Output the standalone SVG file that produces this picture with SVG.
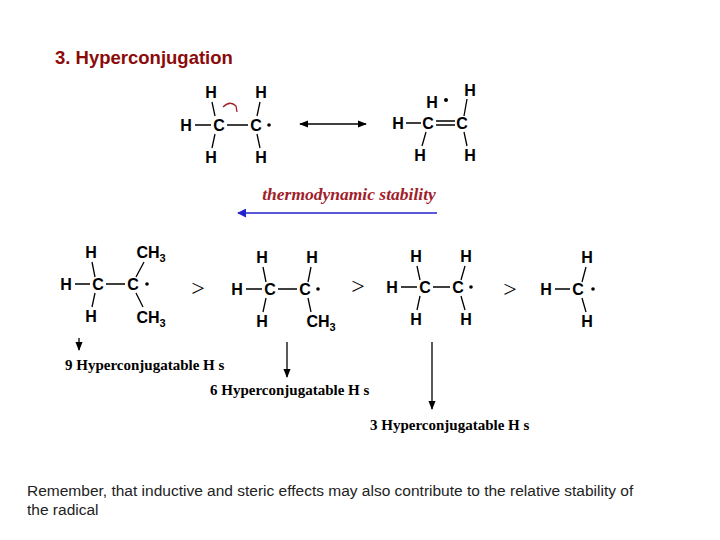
<svg xmlns="http://www.w3.org/2000/svg" width="720" height="540" viewBox="0 0 720 540">
<style>
.a{font-family:"Liberation Sans",Arial,sans-serif;font-weight:bold;font-size:16px;text-anchor:middle;fill:#000}
.s{font-size:11px}
.b{stroke:#000;stroke-width:1.3;fill:none}
.g{font-family:"Liberation Serif",serif;font-size:24px;fill:#000;text-anchor:middle}
.l{font-family:"Liberation Serif",serif;font-weight:bold;font-size:15px;fill:#000}
</style>
<defs>
<marker id="ar" viewBox="0 0 10 10" refX="9" refY="5" markerWidth="7" markerHeight="7" orient="auto-start-reverse"><path d="M0,1 L10,5 L0,9 z" fill="#000"/></marker>
<marker id="ab" viewBox="0 0 10 10" refX="9" refY="5" markerWidth="6" markerHeight="6" orient="auto"><path d="M0,0 L10,5 L0,10 z" fill="#2222cc"/></marker>
</defs>
<rect width="720" height="540" fill="#fff"/>
<text x="55" y="64" font-family="Liberation Sans,Arial,sans-serif" font-weight="bold" font-size="18.5" fill="#8b0a0a">3. Hyperconjugation</text>

<g id="ethyl">
<text class="a" x="211" y="98">H</text><text class="a" x="261" y="98">H</text>
<text class="a" x="186" y="131">H</text><text class="a" x="219" y="131">C</text><text class="a" x="256" y="131">C</text>
<circle cx="269" cy="125" r="1.8"/>
<text class="a" x="211" y="163">H</text><text class="a" x="261" y="163">H</text>
<path class="b" d="M195,125H211M227,125H248M212,102L215,116M260,102L257,116M215,134L212,148M257,134L260,148"/>
<path d="M223,107 Q230,100 236,106 L237,112" fill="none" stroke="#a0202a" stroke-width="1.3"/>
</g>
<g id="connectors">
<line x1="300" y1="124" x2="366" y2="124" class="b" marker-start="url(#ar)" marker-end="url(#ar)"/>
<line x1="437" y1="213" x2="238" y2="213" stroke="#2222cc" stroke-width="1.5" marker-end="url(#ab)"/>
<line x1="79" y1="338" x2="79" y2="350" class="b" marker-end="url(#ar)"/>
<line x1="287" y1="342" x2="287" y2="377" class="b" marker-end="url(#ar)"/>
<line x1="432" y1="342" x2="432" y2="409" class="b" marker-end="url(#ar)"/>
</g>
<g id="ethene">
<text class="a" x="398" y="129">H</text><text class="a" x="428" y="129">C</text><text class="a" x="462" y="129">C</text>
<text class="a" x="470" y="96">H</text><text class="a" x="432" y="108">H</text><circle cx="446" cy="100" r="2"/>
<text class="a" x="420" y="161">H</text><text class="a" x="470" y="161">H</text>
<path class="b" d="M406,123H421M436,121H455M436,125H455M467,99L464,116M426,132L422,146M464,132L467,146"/>
</g>
<text x="349" y="200" font-family="Liberation Serif,serif" font-style="italic" font-weight="bold" font-size="17.5" fill="#a0202a" text-anchor="middle">thermodynamic stability</text>

<g id="m1">
<text class="a" x="91" y="258">H</text><text class="a" x="151" y="258">CH<tspan class="s" dy="4">3</tspan></text>
<text class="a" x="66" y="290">H</text><text class="a" x="98" y="290">C</text><text class="a" x="133" y="290">C</text><circle cx="147" cy="284" r="1.8"/>
<text class="a" x="91" y="322">H</text><text class="a" x="151" y="323">CH<tspan class="s" dy="4">3</tspan></text>
<path class="b" d="M75,284H90M106,284H125M92,262L95,277M144,262L136,277M95,293L92,307M136,293L143,307"/>
</g>
<text class="g" x="198" y="296">&gt;</text>
<g id="m2">
<text class="a" x="262" y="263">H</text><text class="a" x="312" y="263">H</text>
<text class="a" x="237" y="295">H</text><text class="a" x="270" y="295">C</text><text class="a" x="305" y="295">C</text><circle cx="318" cy="289" r="1.8"/>
<text class="a" x="262" y="327">H</text><text class="a" x="321" y="327">CH<tspan class="s" dy="4">3</tspan></text>
<path class="b" d="M246,289H262M278,289H297M263,267L266,282M311,267L308,282M266,298L263,312M308,298L311,312"/>
</g>
<text class="g" x="358" y="294">&gt;</text>
<g id="m3">
<text class="a" x="416" y="262">H</text><text class="a" x="466" y="262">H</text>
<text class="a" x="392" y="293">H</text><text class="a" x="425" y="293">C</text><text class="a" x="458" y="293">C</text><circle cx="471" cy="287" r="1.8"/>
<text class="a" x="416" y="325">H</text><text class="a" x="466" y="325">H</text>
<path class="b" d="M401,287H417M433,287H450M417,266L420,280M465,266L461,280M420,296L417,310M461,296L465,310"/>
</g>
<text class="g" x="510" y="297">&gt;</text>
<g id="m4">
<text class="a" x="587" y="263">H</text><text class="a" x="546" y="295">H</text><text class="a" x="578" y="295">C</text><circle cx="593" cy="289" r="1.8"/>
<text class="a" x="587" y="327">H</text>
<path class="b" d="M555,289H570M586,267L582,282M582,298L586,312"/>
</g>
<text class="l" x="65" y="370">9 Hyperconjugatable H s</text>
<text class="l" x="210" y="395">6 Hyperconjugatable H s</text>
<text class="l" x="370" y="430">3 Hyperconjugatable H s</text>
<text x="27" y="496" font-family="Liberation Sans,Arial,sans-serif" font-size="15.5" fill="#222">Remember, that inductive and steric effects may also contribute to the relative stability of</text>
<text x="27" y="515" font-family="Liberation Sans,Arial,sans-serif" font-size="15.5" fill="#222">the radical</text>
</svg>
